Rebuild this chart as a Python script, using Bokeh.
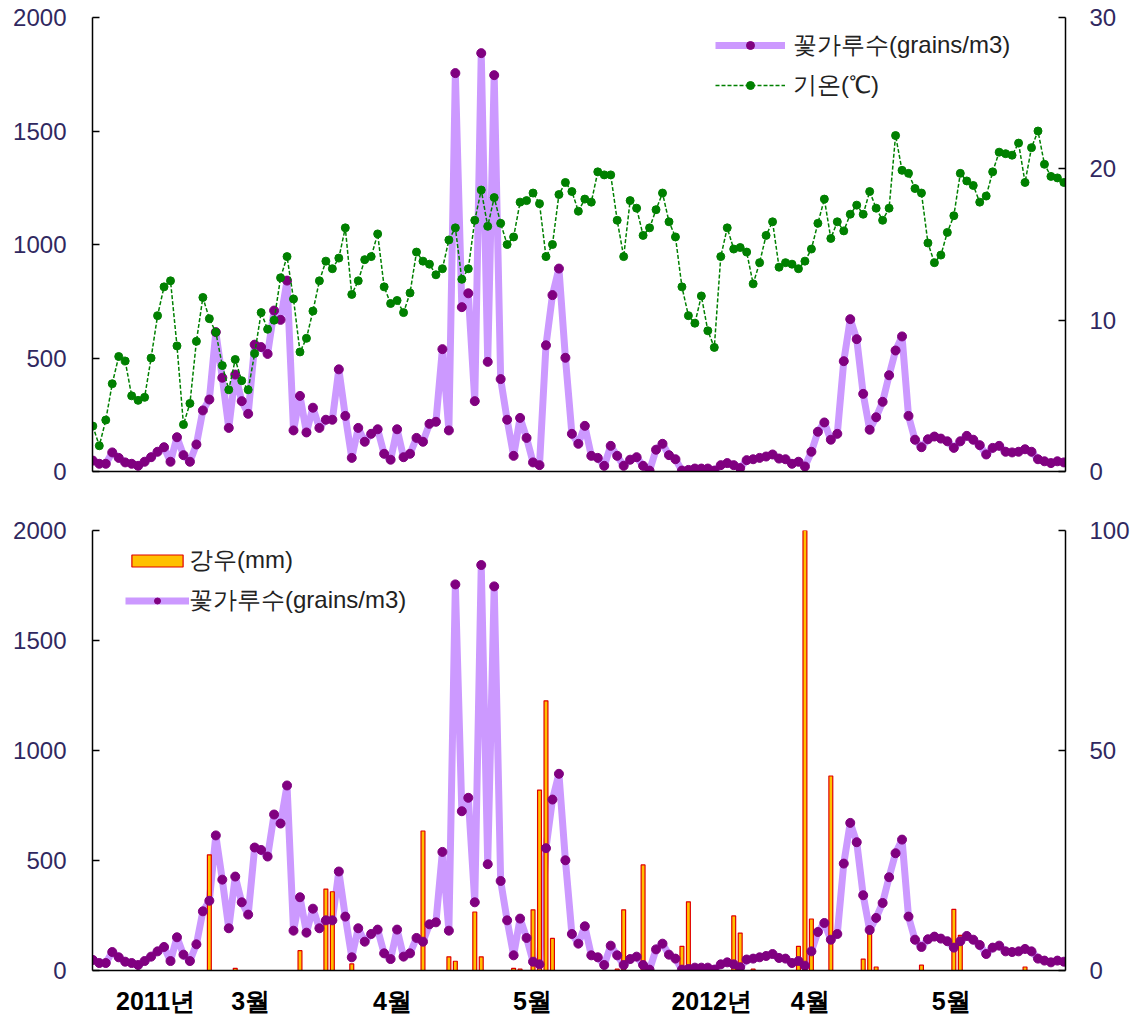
from bokeh.plotting import figure
from bokeh.models import Range1d, LinearAxis, FixedTicker, Legend, LegendItem, ColumnDataSource
from bokeh.layouts import column
from bokeh.embed import file_html
from bokeh.resources import INLINE

# ---------------- data (one value per sampling day) ----------------
pollen = [48, 34, 34, 84, 60, 40, 34, 25, 43, 63,
          87, 107, 43, 151, 72, 43, 119, 269, 317, 614,
          413, 192, 427, 310, 254, 559, 548, 518, 709, 668,
          841, 181, 333, 172, 281, 192, 228, 228, 450, 245,
          60, 192, 131, 166, 186, 78, 52, 186, 63, 78,
          148, 131, 210, 219, 539, 181, 1755, 724, 785, 310,
          1843, 483, 1746, 407, 228, 69, 236, 148, 40, 28,
          556, 777, 894, 501, 166, 122, 201, 69, 60, 25,
          113, 69, 25, 52, 63, 25, 4, 96, 122, 72,
          54, 4, 7, 13, 13, 13, 4, 28, 37, 28,
          15, 50, 54, 60, 66, 75, 57, 54, 34, 43,
          22, 87, 175, 216, 140, 166, 486, 671, 583, 342,
          184, 239, 307, 424, 533, 595, 245, 140, 107, 142,
          154, 145, 133, 104, 133, 157, 140, 116, 75, 104,
          113, 87, 84, 87, 98, 87, 54, 45, 37, 45,
          40]

temperature = [3.0, 1.7, 3.4, 5.8, 7.6, 7.3, 5.0, 4.7, 4.9, 7.5,
               10.3, 12.2, 12.6, 8.3, 3.1, 4.5, 8.6, 11.5, 10.1, 9.2,
               7.0, 5.4, 7.4, 6.0, 5.4, 7.8, 10.5, 9.4, 10.0, 12.8,
               14.2, 11.4, 7.9, 8.8, 10.6, 12.6, 13.9, 13.4, 14.1, 16.1,
               11.7, 12.6, 14.0, 14.2, 15.7, 12.2, 11.1, 11.3, 10.5, 11.8,
               14.5, 13.9, 13.7, 13.0, 13.4, 15.3, 16.1, 12.7, 13.4, 16.6,
               18.6, 16.2, 18.1, 16.4, 15.0, 15.5, 17.8, 17.9, 18.4, 17.7,
               14.2, 15.0, 18.3, 19.1, 18.5, 17.2, 18.0, 17.8, 19.8, 19.6,
               19.6, 16.6, 14.2, 17.9, 17.4, 15.6, 16.1, 17.3, 18.4, 16.5,
               15.5, 12.2, 10.3, 9.8, 11.6, 9.3, 8.2, 14.2, 16.1, 14.7,
               14.8, 14.5, 12.4, 13.8, 15.6, 16.5, 13.5, 13.8, 13.7, 13.4,
               13.9, 14.7, 16.4, 18.0, 15.4, 16.5, 15.9, 17.0, 17.6, 17.0,
               18.5, 17.4, 16.6, 17.4, 22.2, 19.9, 19.7, 18.7, 18.4, 15.1,
               13.8, 14.3, 15.8, 16.9, 19.7, 19.2, 18.9, 17.8, 18.2, 19.8,
               21.1, 21.0, 20.9, 21.7, 19.1, 21.4, 22.5, 20.3, 19.5, 19.4,
               19.1]

# rain: sampling-day index and amount (mm); other days had no rain
rain_day = [18, 22, 32, 36, 37, 40, 51, 55, 56, 59,
            60, 65, 66, 68, 69, 70, 71, 81, 82, 85,
            91, 92, 99, 100, 102, 109, 110, 111, 114, 119,
            120, 121, 128, 133, 134, 144]
rain_mm = [26.3, 0.5, 4.5, 18.5, 17.9, 1.5, 31.7, 3.1, 2.1, 13.3,
           3.1, 0.5, 0.3, 13.8, 41.0, 61.3, 7.3, 0.3, 13.8, 24.0,
           5.5, 15.6, 12.4, 8.5, 0.3, 5.5, 100.0, 11.7, 44.2, 2.6,
           8.6, 0.8, 1.2, 13.9, 8.0, 0.8]

x_tick_labels = ["2011년", "3월", "4월", "5월", "2012년", "4월", "5월"]
x_tick_days = [9.7, 24.4, 46.3, 67.9, 95.6, 110.8, 132.6]
pollen_ticks = [0, 500, 1000, 1500, 2000]
temp_ticks = [0, 10, 20, 30]
rain_ticks = [0, 50, 100]

days = list(range(len(pollen)))
src = ColumnDataSource(dict(day=days, pollen=pollen, temp=temperature))
rain_src = ColumnDataSource(dict(day=rain_day, mm=rain_mm))

# ---------------- styles ----------------
W = 1138
LABEL_COLOR = "#302860"
TICK_FONT = "Liberation Sans"
POLLEN_LINE = "#CC99FF"
POLLEN_DOT = "#800080"
TEMP = "#008000"


def style_y(ax, ticks, standoff):
    ax.ticker = FixedTicker(ticks=ticks)
    ax.major_tick_in = 7
    ax.major_tick_out = 0
    ax.minor_tick_in = 0
    ax.minor_tick_out = 0
    ax.axis_line_color = "#000000"
    ax.axis_line_width = 1.5
    ax.major_tick_line_color = "#000000"
    ax.major_tick_line_width = 1.5
    ax.major_label_text_font = TICK_FONT
    ax.major_label_text_font_size = "24px"
    ax.major_label_text_color = LABEL_COLOR
    ax.major_label_standoff = standoff


def base_fig(height, top, bottom, x_range=None):
    p = figure(width=W, height=height,
               x_range=x_range if x_range is not None else Range1d(-0.05, 150.25),
               y_range=Range1d(0, 2000),
               output_backend="svg", toolbar_location=None,
               min_border_left=92, min_border_right=73,
               min_border_top=top, min_border_bottom=bottom)
    p.grid.visible = False
    p.outline_line_color = None
    p.background_fill_color = "white"
    p.border_fill_color = "white"
    style_y(p.yaxis[0], pollen_ticks, 26)
    return p


# ---------------- top panel: pollen + temperature ----------------
p1 = base_fig(498, 17, 27)
p1.extra_y_ranges = {"temp": Range1d(0, 30)}
ax_t = LinearAxis(y_range_name="temp")
style_y(ax_t, temp_ticks, 24)
p1.add_layout(ax_t, "right")

xa = p1.xaxis[0]
xa.ticker = FixedTicker(ticks=[])
xa.major_tick_in = 0
xa.major_tick_out = 0
xa.minor_tick_in = 0
xa.minor_tick_out = 0
xa.major_label_text_font_size = "0px"
xa.axis_line_width = 1.5
xa.axis_line_color = "#000000"

pl1 = p1.line("day", "pollen", source=src, line_color=POLLEN_LINE, line_width=7,
              line_join="round")
pd1 = p1.scatter("day", "pollen", source=src, size=9, fill_color=POLLEN_DOT,
                 line_color=POLLEN_DOT)
tl1 = p1.line("day", "temp", source=src, y_range_name="temp", line_color=TEMP,
              line_width=1.5, line_dash="4 2")
td1 = p1.scatter("day", "temp", source=src, y_range_name="temp", size=8,
                 fill_color=TEMP, line_color=TEMP)

leg1 = Legend(items=[LegendItem(label="꽃가루수(grains/m3)", renderers=[pl1, pd1]),
                     LegendItem(label="기온(℃)", renderers=[tl1, td1])],
              location=(623, 366), orientation="vertical",
              background_fill_alpha=0, border_line_alpha=0,
              padding=0, margin=0, spacing=0,
              glyph_width=70, glyph_height=20, label_height=40,
              label_standoff=8, label_text_font="Liberation Sans",
              label_text_font_size="24px", label_text_color="#222222")
p1.add_layout(leg1)

# ---------------- bottom panel: rain + pollen ----------------
p2 = base_fig(520, 32, 48, x_range=p1.x_range)
p2.extra_y_ranges = {"rain": Range1d(0, 100)}
ax_r = LinearAxis(y_range_name="rain")
style_y(ax_r, rain_ticks, 24)
p2.add_layout(ax_r, "right")

xb = p2.xaxis[0]
xb.ticker = FixedTicker(ticks=x_tick_days)
xb.major_label_overrides = {d: lab for d, lab in zip(x_tick_days, x_tick_labels)}
xb.major_tick_in = 0
xb.major_tick_out = 0
xb.minor_tick_in = 0
xb.minor_tick_out = 0
xb.axis_line_width = 1.5
xb.axis_line_color = "#000000"
xb.major_label_text_font = TICK_FONT
xb.major_label_text_font_style = "bold"
xb.major_label_text_font_size = "25px"
xb.major_label_text_color = "#000000"
xb.major_label_standoff = 16

pl2 = p2.line("day", "pollen", source=src, line_color=POLLEN_LINE, line_width=7,
              line_join="round")
rb2 = p2.vbar(x="day", top="mm", bottom=0, width=0.6, source=rain_src,
              y_range_name="rain", fill_color="#FFC000", line_color="#E00000",
              line_width=1.2)
pd2 = p2.scatter("day", "pollen", source=src, size=9, fill_color=POLLEN_DOT,
                 line_color=POLLEN_DOT)

leg2 = Legend(items=[LegendItem(label="강우(mm)", renderers=[rb2]),
                     LegendItem(label="꽃가루수(grains/m3)", renderers=[pl2, pd2])],
              location=(33, 350), orientation="vertical",
              background_fill_alpha=0, border_line_alpha=0,
              padding=0, margin=0, spacing=0,
              glyph_width=64, glyph_height=15, label_height=40,
              label_standoff=0, label_text_font="Liberation Sans",
              label_text_font_size="24px", label_text_color="#222222")
p2.add_layout(leg2)

layout = column(p1, p2, spacing=0)
open("out.html", "w").write(file_html(layout, INLINE))
